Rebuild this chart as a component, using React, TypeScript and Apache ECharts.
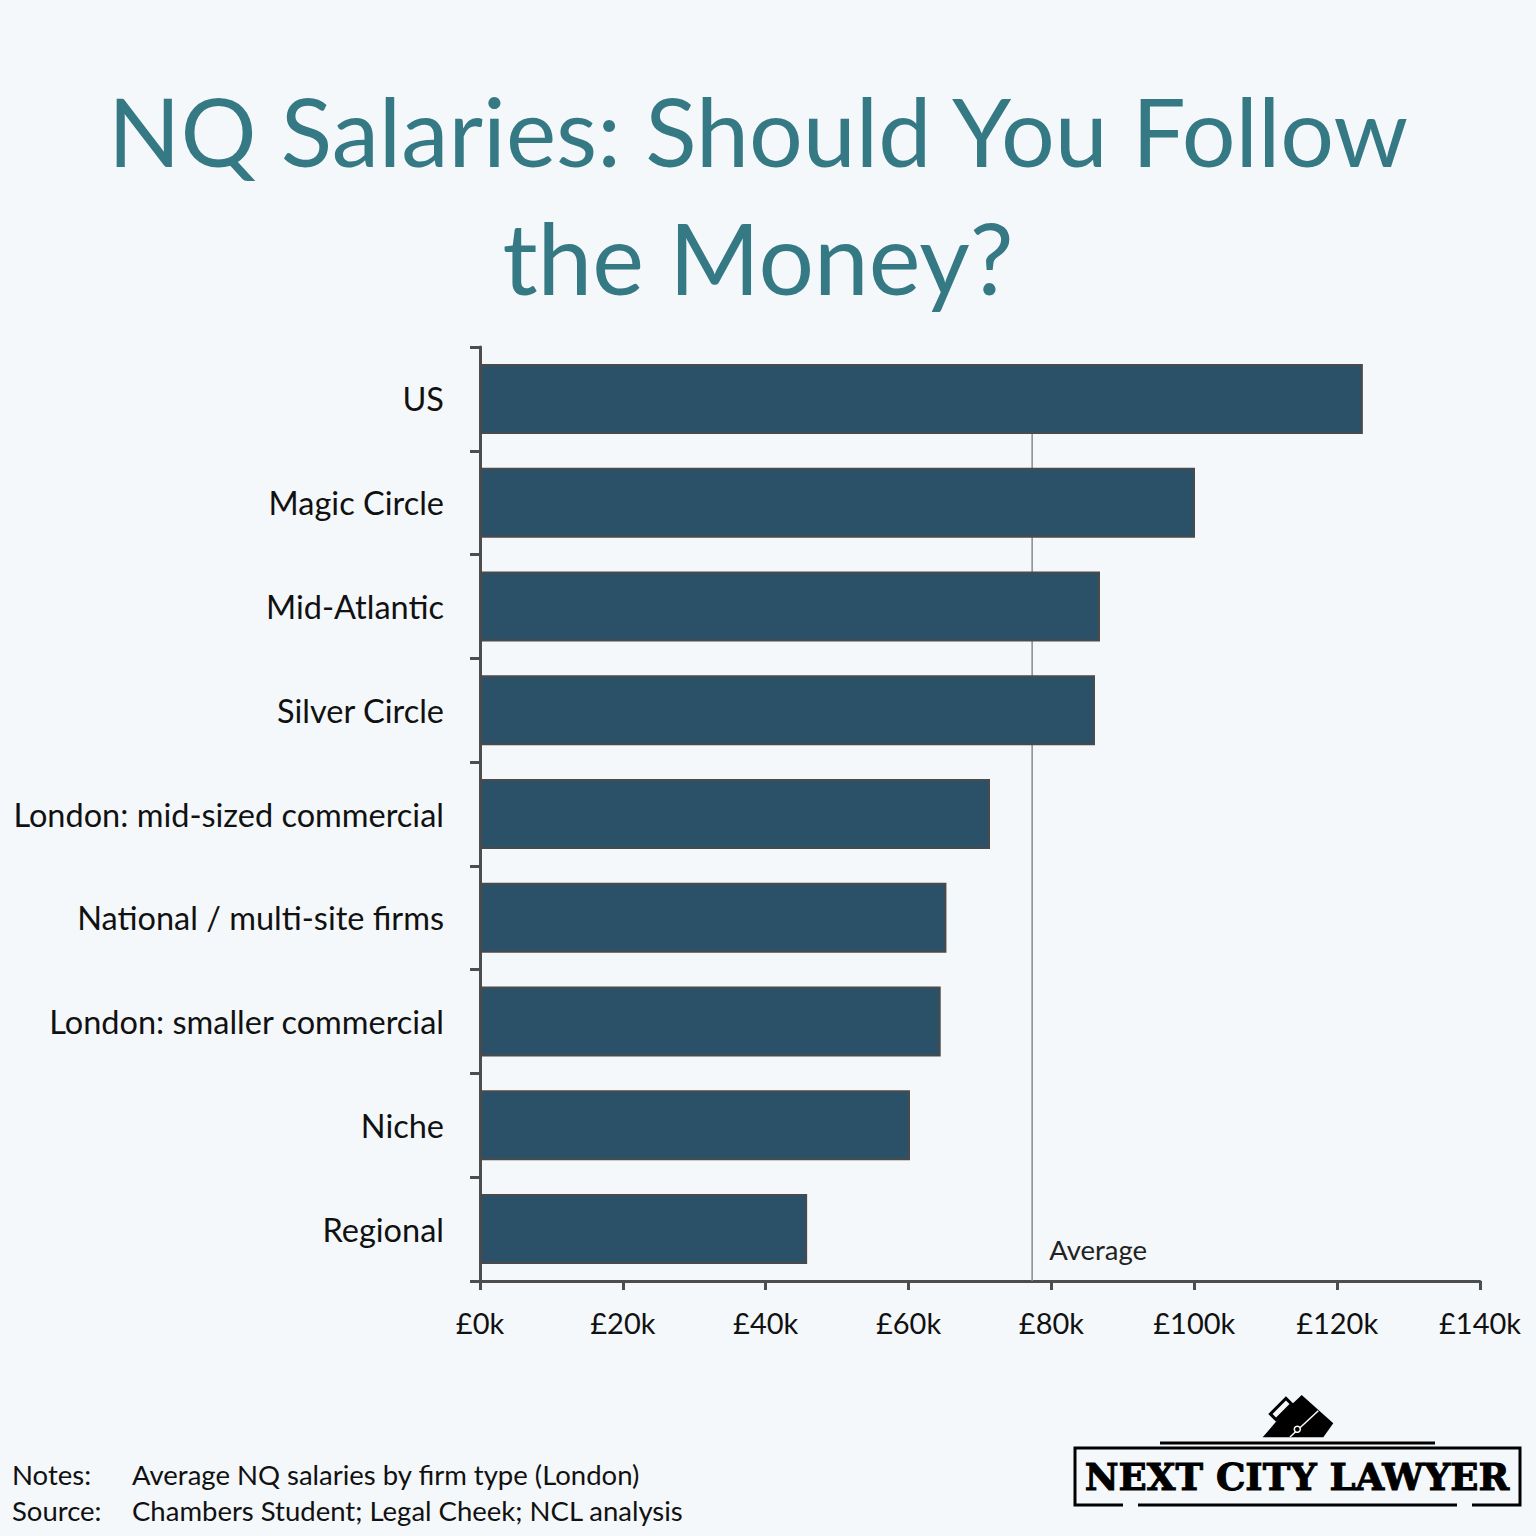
import React, { useEffect, useRef } from "react";
import * as echarts from "echarts";

const categories = [
  "US",
  "Magic Circle",
  "Mid-Atlantic",
  "Silver Circle",
  "London: mid-sized commercial",
  "National / multi-site firms",
  "London: smaller commercial",
  "Niche",
  "Regional",
];
// Average NQ salary, £k
const salaries = [123.6, 100.1, 86.8, 86.1, 71.4, 65.3, 64.5, 60.2, 45.8];
const averageSalary = 77.3;
const axisMin = 0;
const axisMax = 140;
const axisStep = 20;
const titleLines = ["NQ Salaries: Should You Follow", "the Money?"];
const notes = [
  ["Notes:", "Average NQ salaries by firm type (London)"],
  ["Source:", "Chambers Student; Legal Cheek; NCL analysis"],
];

const FONT = "Lato, 'Open Sans', sans-serif";
const BG = "#f4f8fb";

export default function App() {
  const ref = useRef<HTMLDivElement>(null);
  useEffect(() => {
    document.body.style.margin = "0";
    document.body.style.background = BG;
    const chart = echarts.init(ref.current!, undefined, { renderer: "svg" });
    const axisColor = "#4d4d4d";
    const option: any = {
      animation: false,
      backgroundColor: BG,
      textStyle: { fontFamily: FONT },
      grid: { left: 480, right: 56, top: 347, bottom: 255, containLabel: false },
      xAxis: {
        type: "value",
        min: axisMin,
        max: axisMax,
        interval: axisStep,
        splitLine: { show: false },
        axisLine: { show: true, lineStyle: { color: axisColor, width: 3 } },
        axisTick: { show: true, length: 9, lineStyle: { color: axisColor, width: 3 } },
        axisLabel: {
          formatter: (v: number) => `£${v}k`,
          fontSize: 29,
          color: "#111",
          margin: 27,
          fontFamily: FONT,
        },
      },
      yAxis: {
        type: "category",
        inverse: true,
        data: categories,
        axisLine: { show: true, lineStyle: { color: axisColor, width: 3 } },
        axisTick: { show: true, length: 10, lineStyle: { color: axisColor, width: 3 } },
        axisLabel: { fontSize: 32.5, color: "#111", margin: 36, fontFamily: FONT },
      },
      series: [
        {
          type: "custom",
          z: 1,
          clip: false,
          data: [[averageSalary, 0]],
          renderItem: (params: any, api: any) => {
            const v = api.value(0);
            const top = api.coord([v, 0]);
            const bottom = api.coord([v, categories.length - 1]);
            const half = api.size([0, 1])[1] / 2;
            return {
              type: "group",
              children: [
                {
                  type: "line",
                  shape: { x1: top[0], y1: top[1], x2: top[0], y2: bottom[1] + half },
                  style: { stroke: "#8a8a8a", lineWidth: 1.5 },
                },
                {
                  type: "text",
                  style: {
                    text: "Average",
                    x: top[0] + 17,
                    y: bottom[1] + 20,
                    verticalAlign: "middle",
                    align: "left",
                    fontSize: 27.5,
                    fontFamily: FONT,
                    fill: "#222",
                  },
                },
              ],
            };
          },
        },
        {
          type: "bar",
          z: 2,
          data: salaries,
          barWidth: 70,
          itemStyle: { color: "#2b5169", borderColor: "#4a4a4a", borderWidth: 2 },
        },
      ],
      graphic: [
        {
          type: "text",
          x: 758,
          y: 130,
          style: {
            text: titleLines[0],
            fill: "#357985",
            fontSize: 95,
            fontFamily: FONT,
            align: "center",
            verticalAlign: "middle",
          },
        },
        {
          type: "text",
          x: 758,
          y: 257,
          style: {
            text: titleLines[1],
            fill: "#357985",
            fontSize: 98,
            fontFamily: FONT,
            align: "center",
            verticalAlign: "middle",
          },
        },
        ...notes.flatMap((n, i) => [
          {
            type: "text",
            x: 12,
            y: 1474 + i * 36,
            style: { text: n[0], fill: "#111", fontSize: 27.5, fontFamily: FONT, verticalAlign: "middle" },
          },
          {
            type: "text",
            x: 132,
            y: 1474 + i * 36,
            style: { text: n[1], fill: "#111", fontSize: 27.5, fontFamily: FONT, verticalAlign: "middle" },
          },
        ]),
        // logo
        {
          type: "group",
          children: [
            { type: "line", shape: { x1: 1160, y1: 1443, x2: 1435, y2: 1443 }, style: { stroke: "#000", lineWidth: 3 } },
            { type: "polyline", shape: { points: [[1123, 1505], [1075, 1505], [1075, 1448], [1520, 1448], [1520, 1505], [1472, 1505]] }, style: { stroke: "#000", lineWidth: 3, fill: null } },
            { type: "line", shape: { x1: 1138, y1: 1505, x2: 1457, y2: 1505 }, style: { stroke: "#000", lineWidth: 3 } },
            {
              type: "text",
              x: 1297,
              y: 1477,
              style: {
                text: "NEXT CITY LAWYER",
                fill: "#000",
                fontSize: 37,
                fontWeight: "bold",
                fontFamily: "'DejaVu Serif', serif",
                align: "center",
                verticalAlign: "middle",
                stroke: "#000",
                lineWidth: 1,
              },
            },
            {
              type: "polygon",
              shape: { points: [[1301.7, 1395], [1333.3, 1423.3], [1323.3, 1437.3], [1262.7, 1437.3], [1286.7, 1409.3]] },
              style: { fill: "#000" },
            },
            {
              type: "rect",
              x: 1281,
              y: 1409,
              rotation: Math.PI / 4,
              originX: 0,
              originY: 0,
              shape: { x: -11, y: -4, width: 22, height: 8 },
              style: { fill: BG, stroke: "#000", lineWidth: 3 },
            },
            { type: "line", shape: { x1: 1290, y1: 1437, x2: 1318.3, y2: 1410.7 }, style: { stroke: "#fff", lineWidth: 1.5 } },
            { type: "circle", shape: { cx: 1297.3, cy: 1429.3, r: 3 }, style: { fill: "#000", stroke: "#fff", lineWidth: 1.5 } },
          ],
        },
      ],
    };
    chart.setOption(option);
    return () => chart.dispose();
  }, []);
  return <div ref={ref} style={{ width: 1536, height: 1536 }} />;
}
